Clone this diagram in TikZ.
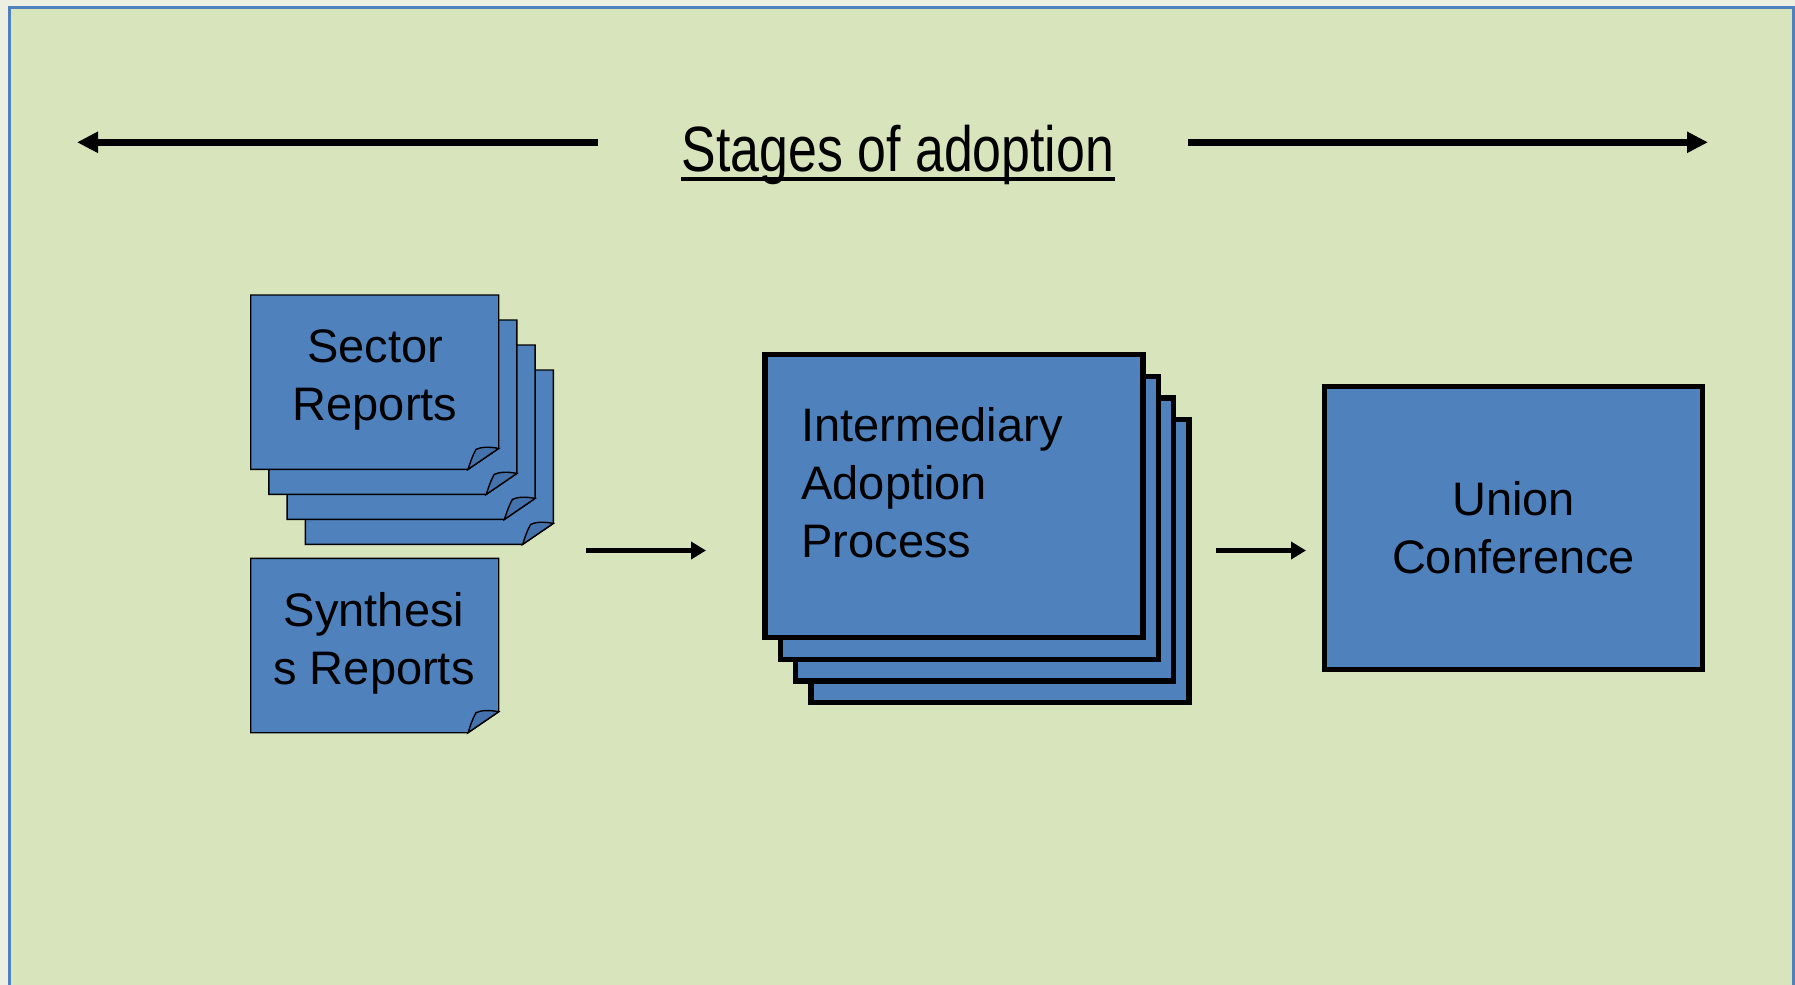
\documentclass[tikz,border=0pt]{standalone}
\usepackage{fontspec}
\setmainfont{Liberation Sans}
\newfontfamily\narrowfont[FakeStretch=0.81]{Liberation Sans}
\usetikzlibrary{arrows.meta}

\definecolor{pagepale}{HTML}{ECEFE1}
\definecolor{slidegreen}{HTML}{D8E4BC}
\definecolor{boxblue}{HTML}{4F81BD}
\definecolor{foldblue}{HTML}{4372AD}

\begin{document}
\begin{tikzpicture}[x=0.5pt,y=-0.5pt,
	]

	\tikzset{paper/.pic={
				\draw[line width=0.7pt,fill=boxblue] (0,0) -- (248,0) -- (248,153.4) -- (217.3,174.4) -- (0,174.4) -- cycle;
				% the curled corner
				\draw[line width=0.7pt,fill=foldblue] (217.3,174.4) -- (248,153.4)
				.. controls (238,151.5) and (230,152) .. (225.3,154.4)
				.. controls (221.5,161) and (219.5,168) .. (217.3,174.4) -- cycle;
			}
	}
	\tikzset{card/.style={
				draw=black,line width=2.65pt,fill=boxblue,
				minimum width=189pt,minimum height=141.5pt,inner sep=0pt
			}
	}
	\tikzset{card text/.style={
				font=\fontsize{23.5}{29}\selectfont,inner sep=0pt
			}
	}
	\tikzset{stage arrow/.style={
				line width=3.3pt,-{Triangle[length=10.5pt,width=10pt]}
			}
	}
	\tikzset{flow arrow/.style={
				line width=2.2pt,-{Triangle[length=7.5pt,width=8.5pt]}
			}
	}

	\useasboundingbox[fill=pagepale] (0,0) rectangle (1795,985);
	\draw[boxblue,line width=1.5pt,fill=slidegreen] (9.5,7.5) rectangle (1793.5,1000);

	% title with the two arrows
	\node[inner sep=0pt,anchor=base,font=\narrowfont\fontsize{32}{38}\selectfont] (title) at (898,171) {Stages of adoption};
	\draw[line width=2.2pt] ([yshift=-4pt]title.base west) -- ([yshift=-4pt]title.base east);

	\coordinate (lstart) at (598,142.3);
	\coordinate (lend) at (77,142.3);
	\coordinate (rstart) at (1188,142.3);
	\coordinate (rend) at (1708,142.3);
	\draw[stage arrow] (lstart) -- (lend);
	\draw[stage arrow] (rstart) -- (rend);

	% sector reports, a stack of four sheets
	\foreach \k in {3,2,1,0} {
			\pic at ({250.7+18.2*\k},{295+25*\k}) {paper};
		}
	\node[card text,align=center] (sector) at (375,380) {Sector\\Reports};

	% synthesis reports, one sheet
	\pic at (250.7,558.3) {paper};
	\node[card text,align=center] (synthesis) at (374,643.5) {Synthesi\\s Reports};

	% intermediary adoption process, a stack of four cards
	\foreach \k in {3,2,1} {
			\node[card] (im\k) at ({954+15.3*\k},{496+21.7*\k}) {};
		}
	\node[card] (im) at (954,496) {};
	\node[card text,align=left,anchor=north west] (imtext) at (801,407) {Intermediary\\Adoption\\Process};

	% union conference
	\node[card,card text,align=center,minimum width=189pt,minimum height=141.5pt] (union) at (1513.5,527.7) {Union\\Conference};

	\coordinate (aone) at (586,550.5);
	\coordinate (bone) at (706,550.5);
	\draw[flow arrow] (aone) -- (bone);

	\coordinate (atwo) at (1216,550.5);
	\coordinate (btwo) at (1306,550.5);
	\draw[flow arrow] (atwo) -- (btwo);

\end{tikzpicture}
\end{document}
